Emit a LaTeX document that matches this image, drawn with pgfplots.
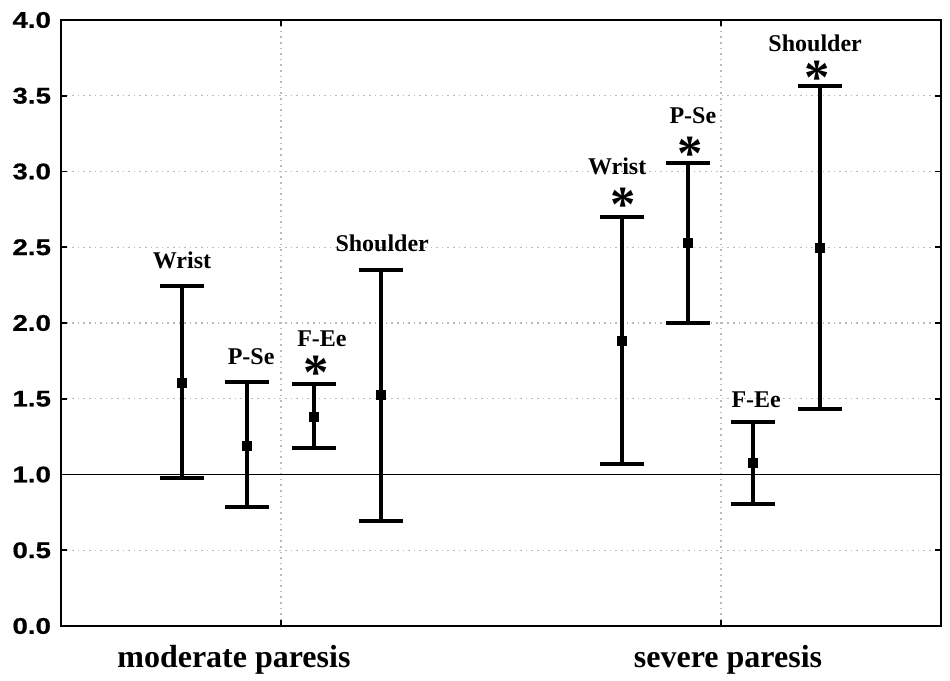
\documentclass[border=0pt]{standalone}
\usepackage{pgfplots}
\pgfplotsset{compat=1.18}
\usepackage{pgfplotstable}
\usepackage{fontspec}
\setmainfont{Liberation Serif}
\newfontfamily\arialw[FakeStretch=1.22, FakeBold=0.6]{Liberation Sans}
\pgfplotstableread{
x y ep em
0.775 1.604 0.640 0.627
0.923 1.188 0.423 0.403
1.075 1.380 0.217 0.205
1.227 1.525 0.825 0.832
1.775 1.881 0.819 0.812
1.925 2.528 0.528 0.528
2.073 1.076 0.271 0.271
2.225 2.495 1.069 1.063
}\datatable
\begin{document}
\begin{tikzpicture}
\begin{axis}[
  scale only axis,
  width=660pt, height=454.5pt,
  xmin=0.5, xmax=2.5, ymin=0, ymax=4,
  clip=false,
  axis line style={line width=1.5pt},
  xtick={1,2}, xticklabels={},
  ytick={0,0.5,...,4},
  tick align=inside,
  major tick length=4.5pt,
  tick style={black, line width=1.3pt},
  grid=major,
  major grid style={gray!55, line width=0.9pt, dash pattern=on 1.2pt off 3pt},
  /pgf/number format/assume math mode=true,
  yticklabel style={font=\arialw\bfseries\fontsize{17}{18}\selectfont, xshift=-4pt},
  yticklabel={\pgfmathprintnumber[fixed,fixed zerofill,precision=1]{\tick}},
]
\addplot[black, line width=0.8pt] coordinates {(0.5,1) (2.5,1)};
\addplot[black, only marks, mark=square*, mark size=3.4pt,
  error bars/.cd, y dir=both, y explicit,
  error bar style={line width=3pt, black},
  error mark options={rotate=90, line width=3.5pt, mark size=16.5pt, black}]
  table[x=x, y=y, y error plus=ep, y error minus=em] {\datatable};
% group labels
\begin{scope}[every node/.style={font=\bfseries\fontsize{18}{20}\selectfont, anchor=base, inner sep=0pt}]
\node at (axis cs:0.775,2.363) {Wrist};
\node at (axis cs:0.932,1.723) {P-Se};
\node at (axis cs:1.093,1.848) {F-Ee};
\node at (axis cs:1.230,2.469) {Shoulder};
\node at (axis cs:1.764,2.977) {Wrist};
\node at (axis cs:1.936,3.320) {P-Se};
\node at (axis cs:2.214,3.795) {Shoulder};
\node at (axis cs:2.080,1.439) {F-Ee};
\end{scope}
\begin{scope}[every node/.style={font=\bfseries\fontsize{38}{40}\selectfont, anchor=base, inner sep=0pt}]
\node at (axis cs:1.080,1.558) {*};
\node at (axis cs:1.777,2.667) {*};
\node at (axis cs:1.930,3.004) {*};
\node at (axis cs:2.218,3.505) {*};
\end{scope}
\begin{scope}[every node/.style={font=\bfseries\fontsize{24}{26}\selectfont, anchor=base, inner sep=0pt}]
\node at (axis cs:0.893,-0.271) {moderate paresis};
\node at (axis cs:2.016,-0.271) {severe paresis};
\end{scope}
\end{axis}
\path (current axis.south west) ++(-45.75pt,-41.25pt) coordinate (A);
\path (current axis.north east) ++(6.75pt,15pt) coordinate (B);
\path (A) rectangle (B);
\end{tikzpicture}
\end{document}
